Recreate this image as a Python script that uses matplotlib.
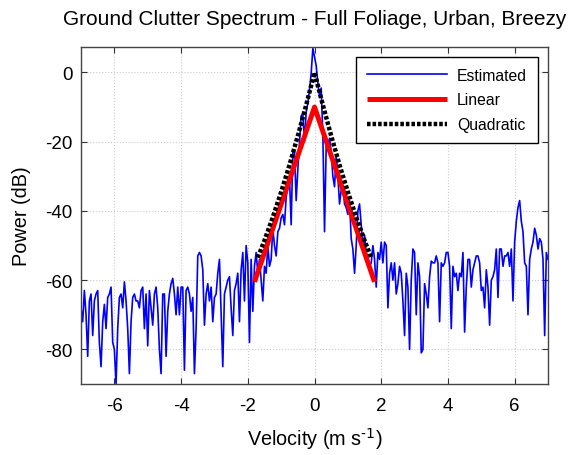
import numpy as np
import matplotlib.pyplot as plt

plt.rcParams['font.family'] = ['Liberation Sans', 'DejaVu Sans']
plt.rcParams['axes.unicode_minus'] = False
plt.rcParams['mathtext.default'] = 'regular'

# estimated spectrum on a 0.05 m/s grid from -7 to 7
power_est = [
    # -7.00 .. -4.55
    -68, -72, -63, -70, -82, -66, -64, -76, -66, -64,
    -63, -78, -85, -72, -67, -74, -65, -64, -62, -78,
    -80, -90, -74, -65, -64, -68, -60.5, -66, -74, -87,
    -72, -65, -64, -66, -66, -68, -63, -62, -74, -64,
    -79, -63, -68, -73, -64, -62, -68, -80, -87, -64,
    # -4.50 .. -2.15
    -64, -82, -69, -64, -61, -59.5, -64, -70, -62, -70,
    -62, -62, -86, -63, -62, -64, -69, -65, -87, -74,
    -53, -52, -53, -57, -73, -64, -61, -66, -62, -72,
    -65, -64, -58, -54, -70, -85, -64, -62, -60, -59,
    -68, -76, -63, -61, -58, -72, -57, -52,
    # -2.10 .. 0.00
    -66, -50, -55, -78, -54, -69, -56, -52, -58, -54,
    -60, -66, -56, -58, -50, -56, -54, -45, -50, -53,
    -46, -45, -42, -41, -44, -36, -33, -30.5, -44, -23,
    -23, -37, -28, -20, -12.5, -12, -20, -11.5, -8.8, -5,
    -0.2, 7, 4.5,
    # 0.05 .. 2.20
    2, -3, -7, -4.5, -18, -46, -21, -21, -19, -23,
    -30, -33, -24, -30, -38, -34, -33, -38, -39, -41,
    -37, -48, -51, -58, -50, -40, -38, -44, -51, -47,
    -52, -54, -56, -55, -50, -54, -62, -52, -54, -49,
    -55, -49, -50, -68,
    # 2.25 .. 4.60
    -58, -55, -60, -55, -64, -61, -56, -58, -66, -76,
    -58, -62, -80, -60, -51, -52, -70, -55, -59, -81,
    -80, -61, -64, -68, -59, -54.5, -55, -55, -53, -55,
    -72, -55, -56, -55, -52, -52, -56, -74, -56, -59,
    -58, -63, -58, -59, -52, -75, -62, -54,
    # 4.65 .. 7.00
    -54, -62, -57, -55, -53, -53, -55, -63, -62, -68,
    -57, -62, -73, -60, -59, -57, -51, -65, -51, -51,
    -56, -53, -53, -52, -56, -51, -66, -49, -43, -39,
    -37, -43, -46, -55, -56, -70, -54, -51, -49, -45,
    -47, -51, -48, -49, -54, -76, -52, -54,
]
velocity = np.linspace(-7, 7, len(power_est))

lin_vel = [-1.8, 0.0, 1.8]
lin_pow = [-60.5, -10.0, -60.5]

quad_vel = [-1.7, -1.5, -1.25, -1.0, -0.75, -0.5, -0.25, 0.0,
            0.25, 0.5, 0.75, 1.0, 1.25, 1.5, 1.7]
quad_pow = [-53.5, -48.5, -41.8, -34.5, -26.7, -18.3, -9.4, 0.0,
            -9.4, -18.3, -26.7, -34.5, -41.8, -48.5, -53.5]

x_ticks = [-6, -4, -2, 0, 2, 4, 6]
y_ticks = [-80, -60, -40, -20, 0]

fig = plt.figure(figsize=(5.69, 4.56), dpi=100)
ax = fig.add_axes([0.1424, 0.1557, 0.8207, 0.7401])

ax.plot(velocity, power_est, color='#0000ff', lw=1.2, label='Estimated')
ax.plot(lin_vel, lin_pow, color='#ff0000', lw=3.6, solid_capstyle='butt',
        label='Linear')
ax.plot(quad_vel, quad_pow, color='black', lw=3.2, linestyle=(0, (0.8, 0.45)),
        label='Quadratic')

ax.set_xlim(-7, 7)
ax.set_ylim(-90, 7.5)
ax.set_xticks(x_ticks)
ax.set_yticks(y_ticks)
ax.tick_params(direction='in', top=True, right=True, labelsize=13.5,
               length=4, color='#333333')
ax.tick_params(axis='x', pad=9)
ax.tick_params(axis='y', pad=6)
ax.grid(True, linestyle=':', color='#cccccc', lw=0.8)
for s in ax.spines.values():
    s.set_color('#444444')
    s.set_linewidth(1.0)

ax.set_xlabel(r'Velocity (m s$^{\text{-1}}$)', fontsize=14.3, labelpad=8)
ax.set_ylabel('Power (dB)', fontsize=14.3, labelpad=10)
ax.set_title('Ground Clutter Spectrum - Full Foliage, Urban, Breezy',
             fontsize=15.0, pad=16)

leg = ax.legend(loc='upper right', fontsize=11.3, handlelength=5.1,
                handletextpad=0.65, fancybox=False, framealpha=1,
                edgecolor='black', borderaxespad=0.65, borderpad=0.7,
                labelspacing=0.62)
leg.get_frame().set_linewidth(1.0)

fig.savefig('out.png', dpi=100)
